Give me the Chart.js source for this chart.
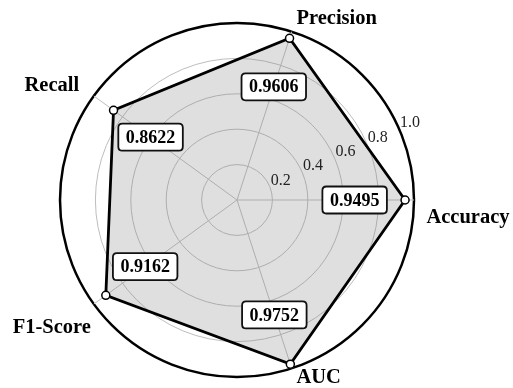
<!DOCTYPE html>
<html>
<head>
<meta charset="utf-8">
<script src="https://cdn.jsdelivr.net/npm/chart.js@4/dist/chart.umd.min.js"></script>
<style>
  html, body { margin: 0; padding: 0; background: #fff; }
  #wrap { width: 513px; height: 388px; }
</style>
</head>
<body>
<div id="wrap"><canvas id="radarChart" width="513" height="388"></canvas></div>
<script>
// metrics, in the order they appear counter-clockwise from the right
const metrics = ["Accuracy", "Precision", "Recall", "F1-Score", "AUC"];
const scores = [0.9495, 0.9606, 0.8622, 0.9162, 0.9752];
const tickValues = [0.2, 0.4, 0.6, 0.8, 1.0];
const tickLabels = ["0.2", "0.4", "0.6", "0.8", "1.0"];

// Chart.js goes clockwise, so flip everything after the first metric
const order = [0, 4, 3, 2, 1];
const labels = order.map((i) => metrics[i]);
const values = order.map((i) => scores[i]);

const SERIF = "'Liberation Serif', 'DejaVu Serif', serif";

// label offsets from the point on the outer ring (px), keyed by metric name
const labelShift = {
    "Accuracy": [54, 18],
    "Precision": [45, -13],
    "Recall": [-42, -10],
    "F1-Score": [-42, 24],
    "AUC": [27, 9],
};

function roundRect(ctx, x, y, w, h, r) {
    ctx.beginPath();
    ctx.moveTo(x + r, y);
    ctx.lineTo(x + w - r, y);
    ctx.quadraticCurveTo(x + w, y, x + w, y + r);
    ctx.lineTo(x + w, y + h - r);
    ctx.quadraticCurveTo(x + w, y + h, x + w - r, y + h);
    ctx.lineTo(x + r, y + h);
    ctx.quadraticCurveTo(x, y + h, x, y + h - r);
    ctx.lineTo(x, y + r);
    ctx.quadraticCurveTo(x, y, x + r, y);
    ctx.closePath();
}

const textPlugin = {
    id: "radarText",
    afterDatasetsDraw(chart) {
        const ctx = chart.ctx;
        const scale = chart.scales.r;
        const cx = scale.xCenter;
        const cy = scale.yCenter;
        ctx.save();

        // radial tick labels along ~24 degrees
        const a = 24 * Math.PI / 180;
        ctx.font = "16px " + SERIF;
        ctx.fillStyle = "#222";
        ctx.textAlign = "center";
        ctx.textBaseline = "middle";
        tickValues.forEach((v, i) => {
            const d = scale.getDistanceFromCenterForValue(v) + 12.5;
            ctx.fillText(tickLabels[i], cx + Math.cos(a) * d, cy - Math.sin(a) * d);
        });

        // value boxes
        ctx.font = "bold 18px " + SERIF;
        values.forEach((v, i) => {
            const p = scale.getPointPosition(i, scale.getDistanceFromCenterForValue(v * 0.7));
            const txt = v.toFixed(4);
            const w = ctx.measureText(txt).width + 15;
            const h = 27;
            roundRect(ctx, p.x - w / 2, p.y - h / 2, w, h, 4);
            ctx.fillStyle = "#fff";
            ctx.fill();
            ctx.lineWidth = 1.8;
            ctx.strokeStyle = "#111";
            ctx.stroke();
            ctx.fillStyle = "#000";
            ctx.fillText(txt, p.x, p.y + 1);
        });

        // category labels
        ctx.font = "bold 20.5px " + SERIF;
        labels.forEach((lab, i) => {
            const p = scale.getPointPosition(i, scale.drawingArea);
            const s = labelShift[lab];
            ctx.fillText(lab, p.x + s[0], p.y + s[1]);
        });
        ctx.restore();
    },
};

new Chart(document.getElementById("radarChart"), {
    type: "radar",
    data: {
        labels: labels,
        datasets: [
            {
                data: values,
                backgroundColor: "rgba(128,128,128,0.25)",
                borderColor: "#000",
                borderWidth: 2.8,
                pointRadius: 4,
                pointBackgroundColor: "#fff",
                pointBorderColor: "#000",
                pointBorderWidth: 1.5,
                fill: true,
            },
        ],
    },
    options: {
        responsive: false,
        animation: false,
        layout: { padding: { left: 0, right: 39, top: 23, bottom: 11 } },
        plugins: {
            legend: { display: false },
            tooltip: { enabled: false },
        },
        scales: {
            r: {
                min: 0,
                max: 1,
                startAngle: 90,
                ticks: { display: false, stepSize: 0.2 },
                pointLabels: { display: false },
                angleLines: { color: "#bdbdbd", lineWidth: 1 },
                grid: {
                    circular: true,
                    color: (c) => (c.tick && c.tick.value > 0.99 ? "#000" : "#bdbdbd"),
                    lineWidth: (c) => (c.tick && c.tick.value > 0.99 ? 2.5 : 1),
                },
            },
        },
    },
    plugins: [textPlugin],
});
</script>
</body>
</html>
